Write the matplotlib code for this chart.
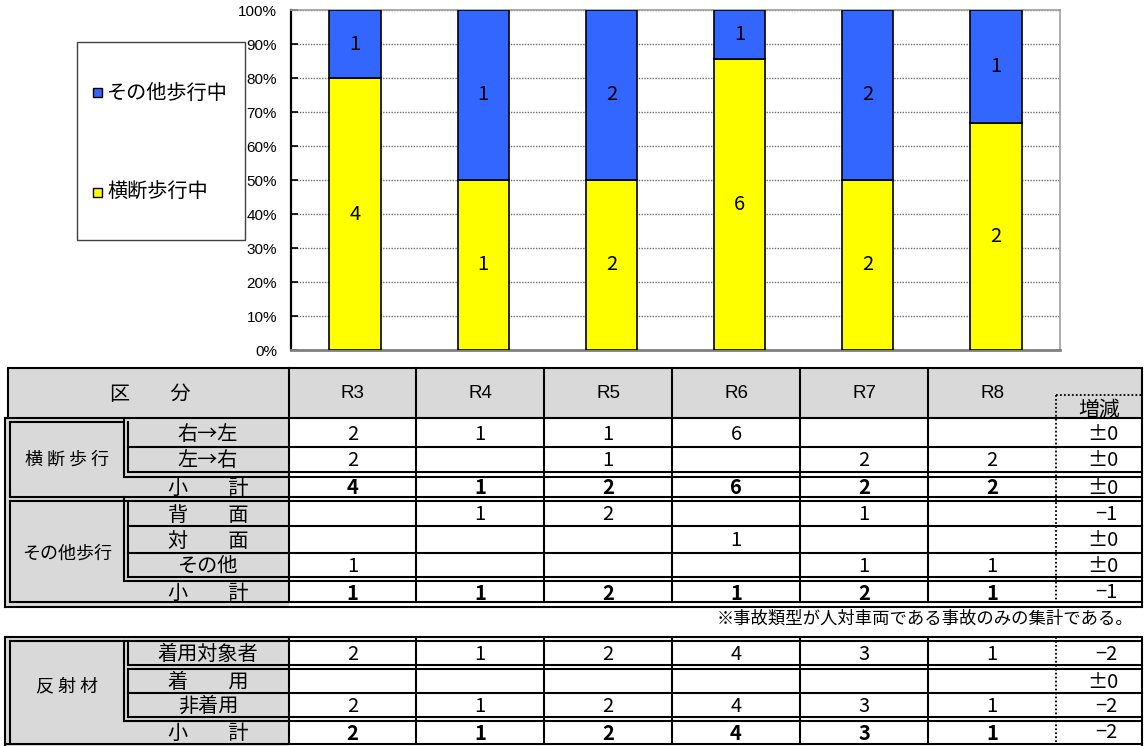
import matplotlib
matplotlib.use('Agg')
import matplotlib.pyplot as plt
from matplotlib.patches import Rectangle
from matplotlib.lines import Line2D

JP = ['Noto Sans CJK JP', 'DejaVu Sans']
LAT = ['Liberation Sans', 'DejaVu Sans']
plt.rcParams['font.family'] = JP

# ---------------- data ----------------
years = ['R3', 'R4', 'R5', 'R6', 'R7', 'R8']
crossing = [4, 1, 2, 6, 2, 2]      # 横断歩行中
other = [1, 1, 2, 1, 2, 1]         # その他歩行中
name_other = 'その他歩行中'
name_crossing = '横断歩行中'
ytick_vals = [0.0, 0.1, 0.2, 0.3, 0.4, 0.5, 0.6, 0.7, 0.8, 0.9, 1.0]
ytick_labels = ['0%', '10%', '20%', '30%', '40%', '50%', '60%', '70%', '80%', '90%', '100%']

header_label = '区　　分'
change_label = '増減'
t1_groups = ['横 断 歩 行', 'その他歩行']
t1_labels = ['右→左', '左→右', '小　　計', '背　　面', '対　　面', 'その他', '小　　計']
t1_values = [
    [2, 1, 1, 6, None, None],
    [2, None, 1, None, 2, 2],
    [4, 1, 2, 6, 2, 2],
    [None, 1, 2, None, 1, None],
    [None, None, None, 1, None, None],
    [1, None, None, None, 1, 1],
    [1, 1, 2, 1, 2, 1],
]
t1_change = ['±0', '±0', '±0', '−1', '±0', '±0', '−1']
t1_bold = [False, False, True, False, False, False, True]

t2_group = '反 射 材'
t2_labels = ['着用対象者', '着　　用', '非着用', '小　　計']
t2_values = [
    [2, 1, 2, 4, 3, 1],
    [None, None, None, None, None, None],
    [2, 1, 2, 4, 3, 1],
    [2, 1, 2, 4, 3, 1],
]
t2_change = ['−2', '±0', '−2', '−2']
t2_bold = [False, False, False, True]

footnote = '※事故類型が人対車両である事故のみの集計である。'

BLUE = '#3366FF'
YELLOW = '#FFFF00'
GREY = '#D9D9D9'

W, H = 1144, 746
fig = plt.figure(figsize=(W / 100, H / 100), dpi=100)

# overlay axes in pixel coordinates (table, legend, notes)
ov = fig.add_axes([0, 0, 1, 1], zorder=0)
ov.set_xlim(0, W)
ov.set_ylim(H, 0)
ov.axis('off')

# ---------------- chart ----------------
ax = fig.add_axes([291 / W, (H - 350) / H, (1060 - 291) / W, 340 / H], zorder=1)
totals = [c + o for c, o in zip(crossing, other)]
p_cross = [c / t for c, t in zip(crossing, totals)]
p_other = [o / t for o, t in zip(other, totals)]
xs = list(range(len(years)))
b1 = ax.bar(xs, p_cross, 0.4, color=YELLOW, edgecolor='black', linewidth=1.2, zorder=3)
b2 = ax.bar(xs, p_other, 0.4, bottom=p_cross, color=BLUE, edgecolor='black', linewidth=1.2, zorder=3)
ax.bar_label(b1, labels=[str(v) for v in crossing], label_type='center', fontsize=14.5, family=JP)
ax.bar_label(b2, labels=[str(v) for v in other], label_type='center', fontsize=14.5, family=JP)
ax.set_xlim(-0.5, len(years) - 0.5)
ax.set_ylim(0, 1)
ax.set_yticks(ytick_vals)
ax.set_yticklabels(ytick_labels, family=LAT, fontsize=11)
ax.set_xticks([])
ax.tick_params(axis='y', direction='in', length=5, width=1.2, pad=10)
ax.yaxis.grid(True, color='#6f6f6f', linestyle=(0, (1, 1)), linewidth=1.0)
ax.set_axisbelow(True)
ax.spines['left'].set_color('black')
ax.spines['left'].set_linewidth(1.6)
for s in ('top', 'right'):
    ax.spines[s].set_color('#a0a0a0')
    ax.spines[s].set_linewidth(1.2)
ax.spines['bottom'].set_color('#808080')
ax.spines['bottom'].set_linewidth(2.0)

# ---------------- legend (manual box) ----------------
ov.add_patch(Rectangle((77, 42), 168, 198, fill=False, edgecolor='#404040', linewidth=1))
ov.add_patch(Rectangle((93, 88), 9, 9, facecolor=BLUE, edgecolor='black', linewidth=1))
ov.add_patch(Rectangle((93, 188), 9, 9, facecolor=YELLOW, edgecolor='black', linewidth=1))
ov.text(107, 93, name_other, fontsize=14.5, va='center', ha='left', family=JP)
ov.text(107, 192, name_crossing, fontsize=14.5, va='center', ha='left', family=JP)

# ---------------- table helpers ----------------
LW = 1.5


def hl(y, x0, x1, ls='-', lw=LW):
    ov.add_line(Line2D([x0, x1], [y, y], color='black', lw=lw, ls=ls,
                       solid_capstyle='projecting'))


def vl(x, y0, y1, ls='-', lw=LW):
    ov.add_line(Line2D([x, x], [y0, y1], color='black', lw=lw, ls=ls,
                       solid_capstyle='projecting'))


def tx(x, y, s, size, ha='center', weight='normal', family=JP):
    ov.text(x, y, s, fontsize=size, ha=ha, va='center', fontweight=weight, family=family)


col_edges = [289, 416, 544, 672, 800, 928, 1056, 1142]
col_centers = [(col_edges[i] + col_edges[i + 1]) / 2 for i in range(6)]
CHG_X = 1118
DOT = (0, (1, 1.2))
NUM = 14.5

# ---------------- table 1 ----------------
ov.add_patch(Rectangle((8, 368), 1142 - 8, 418 - 368, facecolor=GREY, edgecolor='none'))
ov.add_patch(Rectangle((5, 418), 289 - 5, 607 - 418, facecolor=GREY, edgecolor='none'))

# horizontal lines
hl(368, 8, 1142)
hl(418, 5, 1142)
hl(422, 10, 124)
hl(447, 128, 1142)
hl(472, 128, 1142)
hl(477, 124, 1142)
hl(497, 10, 1142)
hl(501, 10, 1142)
hl(526, 128, 1142)
hl(553, 128, 1142)
hl(577, 128, 1142)
hl(581, 124, 1142)
hl(602, 10, 1142)
hl(607, 5, 1142)
# vertical lines
vl(8, 368, 418)
vl(5, 418, 607)
vl(10, 422, 497)
vl(10, 501, 602)
vl(124, 418, 477)
vl(124, 497, 581)
vl(128, 422, 472)
vl(128, 501, 577)
for xe in col_edges[:6]:
    vl(xe, 368, 602)
vl(1142, 368, 607)
# dotted change column
vl(1056, 395, 602, ls=DOT, lw=1.3)
hl(395, 1056, 1142, ls=DOT, lw=1.3)

# header texts
tx(150, 394, header_label, 14.5)
for xc, yr in zip(col_centers, years):
    tx(xc, 394, yr, 13.5, family=LAT)
tx(1099, 410, change_label, 15)

t1_row_y = [434, 461, 488, 515, 541, 566, 593]
tx(67, 460, t1_groups[0], 13)
tx(67, 554, t1_groups[1], 13)
for i, (lab, vals, chg, bold) in enumerate(zip(t1_labels, t1_values, t1_change, t1_bold)):
    y = t1_row_y[i]
    tx(208, y, lab, 14.5)
    w = 'bold' if bold else 'normal'
    for xc, v in zip(col_centers, vals):
        if v is not None:
            tx(xc, y, str(v), NUM, weight=w)
    tx(CHG_X, y, chg, NUM, ha='right')

# footnote
tx(1133, 619, footnote, 12.5, ha='right')

# ---------------- table 2 ----------------
ov.add_patch(Rectangle((5, 637), 289 - 5, 746 - 637, facecolor=GREY, edgecolor='none'))
hl(637, 5, 1142)
hl(641, 10, 1142)
hl(665, 128, 1142)
hl(669, 128, 1142)
hl(693, 128, 1142)
hl(717, 128, 1142)
hl(721, 124, 1142)
hl(744, 5, 1142)
vl(5, 637, 746)
vl(10, 641, 744)
vl(124, 641, 721)
vl(128, 641, 665)
vl(128, 669, 717)
for xe in col_edges[:6]:
    vl(xe, 637, 744)
vl(1142, 637, 746)
vl(1056, 637, 744, ls=DOT, lw=1.3)

t2_row_y = [654, 682, 706, 733]
tx(67, 686, t2_group, 13)
for i, (lab, vals, chg, bold) in enumerate(zip(t2_labels, t2_values, t2_change, t2_bold)):
    y = t2_row_y[i]
    tx(208, y, lab, 14.5)
    w = 'bold' if bold else 'normal'
    for xc, v in zip(col_centers, vals):
        if v is not None:
            tx(xc, y, str(v), NUM, weight=w)
    tx(CHG_X, y, chg, NUM, ha='right')

fig.savefig('out.png', dpi=100)
